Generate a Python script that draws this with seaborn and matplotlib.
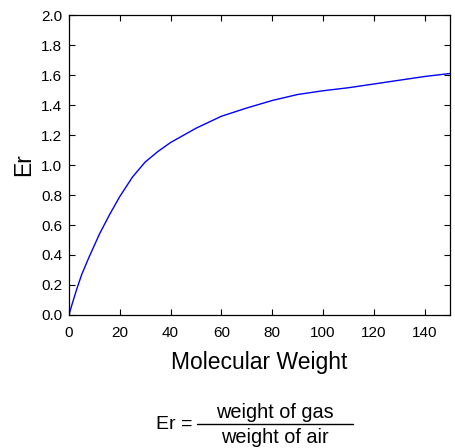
import matplotlib
matplotlib.use("Agg")
import matplotlib.pyplot as plt
import seaborn as sns
import pandas as pd

molecular_weight = [0, 1, 3, 5, 8, 12, 16, 20, 25, 30, 35, 40, 50, 60, 70, 80, 90, 100, 110, 120, 130, 140, 150]
er_values = [0.0, 0.06, 0.17, 0.27, 0.39, 0.54, 0.67, 0.79, 0.92, 1.02, 1.09, 1.15, 1.245, 1.325, 1.38, 1.43, 1.47, 1.495, 1.515, 1.54, 1.565, 1.59, 1.61]
x_ticks = [0, 20, 40, 60, 80, 100, 120, 140]
y_ticks = [0.0, 0.2, 0.4, 0.6, 0.8, 1.0, 1.2, 1.4, 1.6, 1.8, 2.0]

sns.set_theme(style="ticks")
plt.rcParams['font.family'] = ['Liberation Sans', 'DejaVu Sans']
plt.rcParams['text.color'] = 'black'
plt.rcParams['axes.labelcolor'] = 'black'

df = pd.DataFrame({"Molecular Weight": molecular_weight, "Er": er_values})

fig = plt.figure(figsize=(4.55, 4.48), dpi=100)
ax = fig.add_axes([69/455, 1 - 315/448, (450 - 69)/455, (315 - 15)/448])
sns.lineplot(data=df, x="Molecular Weight", y="Er", ax=ax, color="#0000ff", linewidth=1.0)

ax.set_xlim(0, 150)
ax.set_ylim(0, 2.0)
ax.set_xticks(x_ticks)
ax.set_yticks(y_ticks)
ax.set_yticklabels([f"{v:.1f}" for v in y_ticks])
ax.tick_params(direction="in", top=True, right=True, length=4, width=0.8,
               labelsize=11, colors="black")
ax.tick_params(axis="x", pad=8)
ax.tick_params(axis="y", pad=5)
for s in ax.spines.values():
    s.set_visible(True)
    s.set_color("black")
    s.set_linewidth(0.9)
ax.set_xlabel("Molecular Weight", fontsize=16.5, labelpad=8, color="black")
ax.set_ylabel("Er", fontsize=16.5, labelpad=4, color="black")

# formula
fig.text(192/455, 1 - 424/448, "Er =", fontsize=14, ha="right", va="center", color="black")
fig.text(275/455, 1 - 412/448, "weight of gas", fontsize=14.3, ha="center", va="center", color="black")
fig.text(275/455, 1 - 437/448, "weight of air", fontsize=14.3, ha="center", va="center", color="black")
fig.add_artist(plt.Line2D([197/455, 353/455], [1 - 424/448, 1 - 424/448], color="black", linewidth=1.0))

fig.savefig("out.png", dpi=100)
